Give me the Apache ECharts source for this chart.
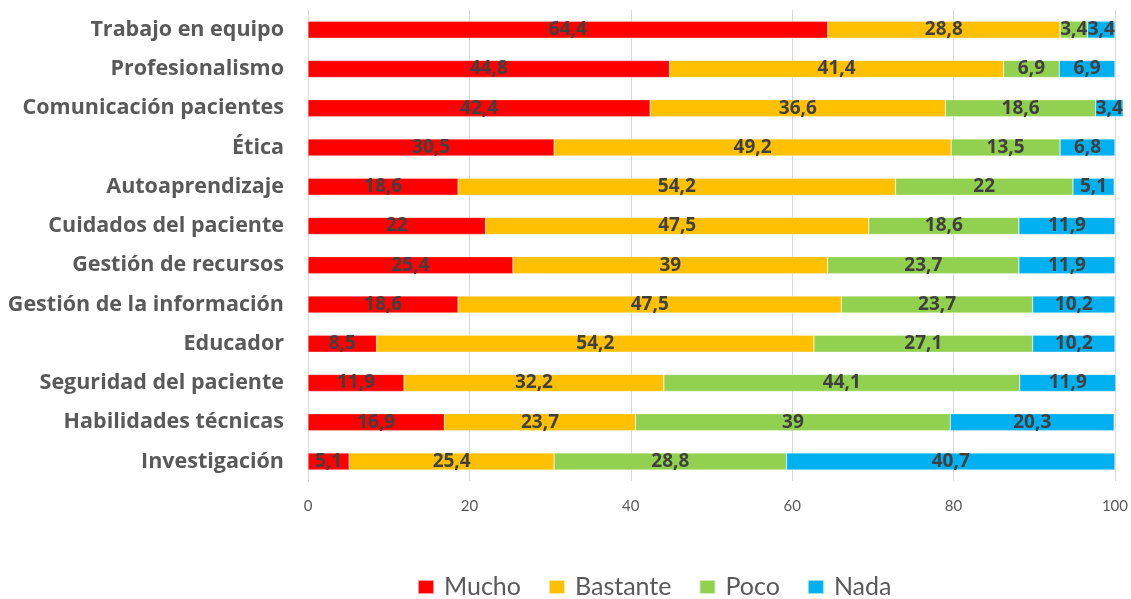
<!DOCTYPE html>
<html>
<head>
<meta charset="utf-8">
<script src="https://cdn.jsdelivr.net/npm/echarts@6/dist/echarts.min.js"></script>
<style>html,body{margin:0;padding:0;background:#fff}#c{width:1131px;height:599px}</style>
</head>
<body>
<div id="c"></div>
<script>
const categories = ['Trabajo en equipo','Profesionalismo','Comunicación pacientes','Ética','Autoaprendizaje','Cuidados del paciente','Gestión de recursos','Gestión de la información','Educador','Seguridad del paciente','Habilidades técnicas','Investigación'];
const mucho    = [64.4, 44.8, 42.4, 30.5, 18.6, 22, 25.4, 18.6, 8.5, 11.9, 16.9, 5.1];
const bastante = [28.8, 41.4, 36.6, 49.2, 54.2, 47.5, 39, 47.5, 54.2, 32.2, 23.7, 25.4];
const poco     = [3.4, 6.9, 18.6, 13.5, 22, 18.6, 23.7, 23.7, 27.1, 44.1, 39, 28.8];
const nada     = [3.4, 6.9, 3.4, 6.8, 5.1, 11.9, 11.9, 10.2, 10.2, 11.9, 20.3, 40.7];
const seriesNames = ['Mucho','Bastante','Poco','Nada'];
const colors = ['#FF0000','#FFC000','#92D050','#00B0F0'];
const xTicks = [0,20,40,60,80,100];

const chart = echarts.init(document.getElementById('c'));
const labelFont = "'Open Sans',sans-serif";
const mk = (name, data, i) => ({
  name, type: 'bar', stack: 'total', data, barWidth: 17, clip: false,
  itemStyle: { color: colors[i], borderColor: 'rgba(255,255,255,0.6)', borderWidth: 0.5 },
  label: { show: true, position: 'inside', color: '#404040', fontWeight: 'bold', fontSize: 19, fontFamily: labelFont,
    formatter: p => String(p.value).replace('.', ',') }
});
chart.setOption({
  animation: false,
  grid: { left: 308, right: 15, top: 10, bottom: 118 },
  xAxis: { type: 'value', min: xTicks[0], max: xTicks[xTicks.length - 1], interval: 20,
    axisLine: { show: false }, axisTick: { show: false },
    splitLine: { lineStyle: { color: '#d9d9d9', width: 1 } },
    axisLabel: { color: '#595959', fontSize: 15, fontFamily: "Lato,sans-serif", margin: 18 } },
  yAxis: { type: 'category', data: categories, inverse: true,
    axisLine: { show: true, lineStyle: { color: '#d9d9d9' } }, axisTick: { show: false },
    axisLabel: { color: '#595959', fontSize: 21.5, fontWeight: 'bold', fontFamily: "'Open Sans',sans-serif", margin: 24 } },
  legend: { top: 574, left: 417, padding: 0, itemWidth: 16, itemHeight: 14, itemGap: 27, icon: 'rect',
    textStyle: { color: '#595959', fontSize: 25, lineHeight: 26, fontFamily: "Lato,sans-serif", padding: [0,0,0,5] },
    data: seriesNames },
  series: [mk(seriesNames[0], mucho, 0), mk(seriesNames[1], bastante, 1), mk(seriesNames[2], poco, 2), mk(seriesNames[3], nada, 3)]
});
</script>
</body>
</html>
